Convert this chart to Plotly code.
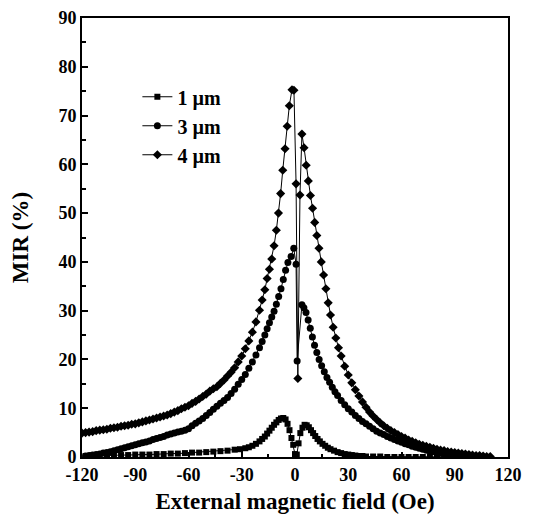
import plotly.graph_objects as go

# ---- data ----
x_1um = [-118, -114, -110, -106, -102, -98, -94, -90, -86, -82, -78, -74, -70, -66, -62, -58, -54, -50,
         -46, -42, -38, -34, -31, -28, -26, -24, -22, -20, -18.5, -17, -15.7, -14.4, -13.1, -11.8, -10.5,
         -9.2, -7.9, -6.6, -5.3, -4.2, -3.1, -2.0, -1.0, 0, 1.0, 2.0, 3.0, 4.2, 5.4, 6.6, 7.8, 9.0, 10.2,
         11.4, 12.7, 14, 15.5, 17, 18.5, 20, 22, 24, 26, 28, 30, 32, 34, 36, 38, 40, 44, 48, 52, 56, 60,
         64, 68, 72, 76, 80, 84, 88, 92, 96, 100, 104, 108]
y_1um = [0.2, 0.3, 0.3, 0.3, 0.4, 0.4, 0.4, 0.5, 0.5, 0.5, 0.6, 0.6, 0.7, 0.7, 0.8, 0.9, 0.9, 1.0,
         1.1, 1.2, 1.3, 1.5, 1.6, 1.8, 2.0, 2.3, 2.7, 3.2, 3.7, 4.2, 4.8, 5.4, 6.0, 6.6, 7.1,
         7.6, 7.9, 8.0, 7.7, 6.8, 5.5, 3.9, 2.5, 0.6, 0.5, 2.8, 4.9, 6.0, 6.6, 6.5, 6.1, 5.5, 4.9,
         4.3, 3.7, 3.2, 2.7, 2.3, 1.9, 1.6, 1.3, 1.0, 0.8, 0.6, 0.5, 0.4, 0.3, 0.2, 0.2, 0.1, 0.1, 0.1, 0.0, 0.0, 0.0,
         0.0, 0.0, 0.0, 0.0, 0.0, 0.0, 0.0, 0.0, 0.0, 0.0, 0.0, 0.0]

x_3um = [-118, -116, -114, -112, -110, -108, -106, -104, -102, -100, -98, -96, -94, -92, -90, -88, -86,
         -84, -82, -80, -78, -76, -74, -72, -70, -68, -66, -64, -62, -60, -58, -56, -54, -52, -50, -48,
         -46, -44, -42, -40, -38, -36, -34, -32, -30, -28, -26, -24, -22, -20, -18.5, -17, -15.7, -14.4,
         -13.1, -11.8, -10.5, -9.2, -7.9, -6.6, -5.3, -4.0, -2.2, -0.7, 0.6, 1.2, 3.9, 5.0, 6.2, 7.4, 8.6,
         9.8, 11, 12.3, 13.6, 15, 16.5, 18, 19.5, 21, 22.5, 24, 26, 28, 30, 32, 34, 36, 38, 40, 42, 44, 46,
         48, 50, 52, 54, 56, 58, 60, 62, 64, 66, 68, 70, 72, 74, 76, 78, 80, 82, 84, 86, 88, 90, 92, 94]
y_3um = [0.2, 0.3, 0.4, 0.5, 0.6, 0.8, 0.9, 1.1, 1.3, 1.5, 1.7, 1.9, 2.1, 2.3, 2.5, 2.7, 2.9,
         3.1, 3.3, 3.6, 3.8, 4.0, 4.2, 4.5, 4.7, 4.9, 5.1, 5.3, 5.5, 5.8, 6.4, 6.9, 7.4, 7.9, 8.5, 9.1,
         9.8, 10.4, 11.0, 11.6, 12.2, 13.0, 13.9, 14.9, 15.9, 16.9, 18.2, 19.5, 20.9, 22.4, 23.7, 25.0, 26.3, 27.5,
         28.7, 29.9, 31.3, 32.9, 34.5, 36.4, 38.3, 39.9, 41.1, 42.8, 39.5, 19.7, 31.2, 30.6, 29.6, 28.1, 26.4,
         24.6, 22.9, 21.4, 20.0, 18.7, 17.5, 16.3, 15.3, 14.3, 13.4, 12.6, 11.6, 10.7, 9.9, 9.2, 8.5, 7.9, 7.3, 6.8, 6.3, 5.8, 5.3,
         4.9, 4.6, 4.2, 3.9, 3.6, 3.3, 3.0, 2.7, 2.5, 2.2, 2.0, 1.8, 1.6, 1.4, 1.2, 1.1, 0.9, 0.8, 0.7, 0.5, 0.4, 0.3, 0.2, 0.1]

x_4um = [-120, -118, -116, -114, -112, -110, -108, -106, -104, -102, -100, -98, -96, -94, -92, -90, -88,
         -86, -84, -82, -80, -78, -76, -74, -72, -70, -68, -66, -64, -62, -60, -58, -56, -54, -52, -50, -48,
         -46, -44, -42, -40, -38, -36, -34, -32, -30, -28, -26, -24, -22, -20, -18.5, -17, -15.7, -14.4,
         -13.1, -11.8, -10.5, -9.3, -8.1, -6.9, -5.6, -4.4, -3.2, -1.7, -0.6, 0.6, 1.6, 2.8, 3.9, 5.1, 6.3,
         7.5, 8.7, 9.9, 11.1, 12.3, 13.5, 14.8, 16.1, 17.4, 18.7, 20, 21.5, 23, 24.5, 26, 28, 30, 32, 34, 36,
         38, 40, 42, 44, 46, 48, 50, 52, 54, 56, 58, 60, 62, 64, 66, 68, 70, 72, 74, 76, 78, 80, 82, 84, 86,
         88, 90, 92, 94, 96, 98, 100, 102, 104, 106, 108, 110]
y_4um = [4.9, 5.0, 5.1, 5.2, 5.4, 5.5, 5.6, 5.7, 5.9, 6.0, 6.1, 6.3, 6.4, 6.5, 6.7, 6.8, 7.0,
         7.2, 7.4, 7.6, 7.8, 8.0, 8.2, 8.4, 8.6, 8.9, 9.2, 9.5, 9.9, 10.2, 10.5, 11.0, 11.4, 11.9, 12.4, 12.9, 13.5,
         14.0, 14.4, 15.1, 15.8, 16.6, 17.4, 18.3, 19.5, 20.7, 22.2, 23.8, 25.6, 27.7, 30.1, 32.2, 34.3, 36.6, 38.5,
         40.6, 43.3, 46.5, 50.0, 54.0, 58.8, 63.2, 67.8, 72.0, 75.3, 75.2, 56.0, 16.1, 53.7, 66.2, 63.4, 59.8,
         56.6, 53.6, 51.0, 48.1, 45.4, 42.8, 40.0, 37.3, 34.5, 31.6, 29.1, 26.6, 24.4, 22.4, 20.7, 18.6, 16.8, 15.2, 13.8, 12.5,
         11.3, 10.2, 9.2, 8.4, 7.7, 7.0, 6.4, 5.9, 5.4, 5.0, 4.6, 4.2, 3.9, 3.5, 3.2, 2.9, 2.6, 2.4, 2.2, 2.0, 1.8, 1.6, 1.4, 1.3, 1.1,
         1.0, 0.9, 0.8, 0.7, 0.6, 0.5, 0.4, 0.3, 0.3, 0.2, 0.1, 0.1]

x_ticks = [-120, -90, -60, -30, 0, 30, 60, 90, 120]
y_ticks = [0, 10, 20, 30, 40, 50, 60, 70, 80, 90]

FONT = "Liberation Serif"

fig = go.Figure()
fig.add_trace(go.Scatter(x=x_1um, y=y_1um, mode="lines+markers", name="<b>1 \u00b5m</b>",
                         line=dict(color="black", width=1),
                         marker=dict(symbol="square", size=6, color="black")))
fig.add_trace(go.Scatter(x=x_3um, y=y_3um, mode="lines+markers", name="<b>3 \u00b5m</b>",
                         line=dict(color="black", width=1),
                         marker=dict(symbol="circle", size=7, color="black")))
fig.add_trace(go.Scatter(x=x_4um, y=y_4um, mode="lines+markers", name="<b>4 \u00b5m</b>",
                         line=dict(color="black", width=1),
                         marker=dict(symbol="diamond", size=7, color="black")))

# the page body adds an 8 px offset, so the figure is sized to fill the rest of the window
fig.update_layout(
    width=532, height=514,
    margin=dict(l=74, r=32, t=10, b=65),
    paper_bgcolor="white", plot_bgcolor="white",
    font=dict(family=FONT, color="black", size=18),
    showlegend=True,
    legend=dict(x=0.13, y=0.865, xanchor="left", yanchor="top",
                bgcolor="rgba(0,0,0,0)", font=dict(size=20, family=FONT),
                tracegroupgap=0),
)
fig.update_xaxes(
    range=[-120, 120], tickvals=x_ticks, ticktext=[f"<b>{v}</b>" for v in x_ticks],
    showgrid=False, zeroline=False, showline=True, linecolor="black", linewidth=2,
    mirror=True, ticks="inside", ticklen=5, tickwidth=2, tickcolor="black",
    minor=dict(dtick=15, ticks="inside", ticklen=3, tickwidth=1.5, tickcolor="black"),
    title=dict(text="<b>External magnetic field (Oe)</b>", font=dict(size=23, family=FONT), standoff=9),
    tickfont=dict(size=18, family=FONT), automargin=False, ticklabeloverflow="allow",
)
fig.update_yaxes(
    range=[0, 90], tickvals=y_ticks, ticktext=[f"<b>{v}</b>" for v in y_ticks],
    showgrid=False, zeroline=False, showline=True, linecolor="black", linewidth=2,
    mirror=True, ticks="inside", ticklen=6, tickwidth=2, tickcolor="black",
    minor=dict(dtick=5, ticks="inside", ticklen=4, tickwidth=1.5, tickcolor="black"),
    title=dict(text="<b>MIR (%)</b>", font=dict(size=23, family=FONT), standoff=30),
    tickfont=dict(size=18, family=FONT), automargin=False, ticklabeloverflow="allow",
)

fig.write_html("out.html")
